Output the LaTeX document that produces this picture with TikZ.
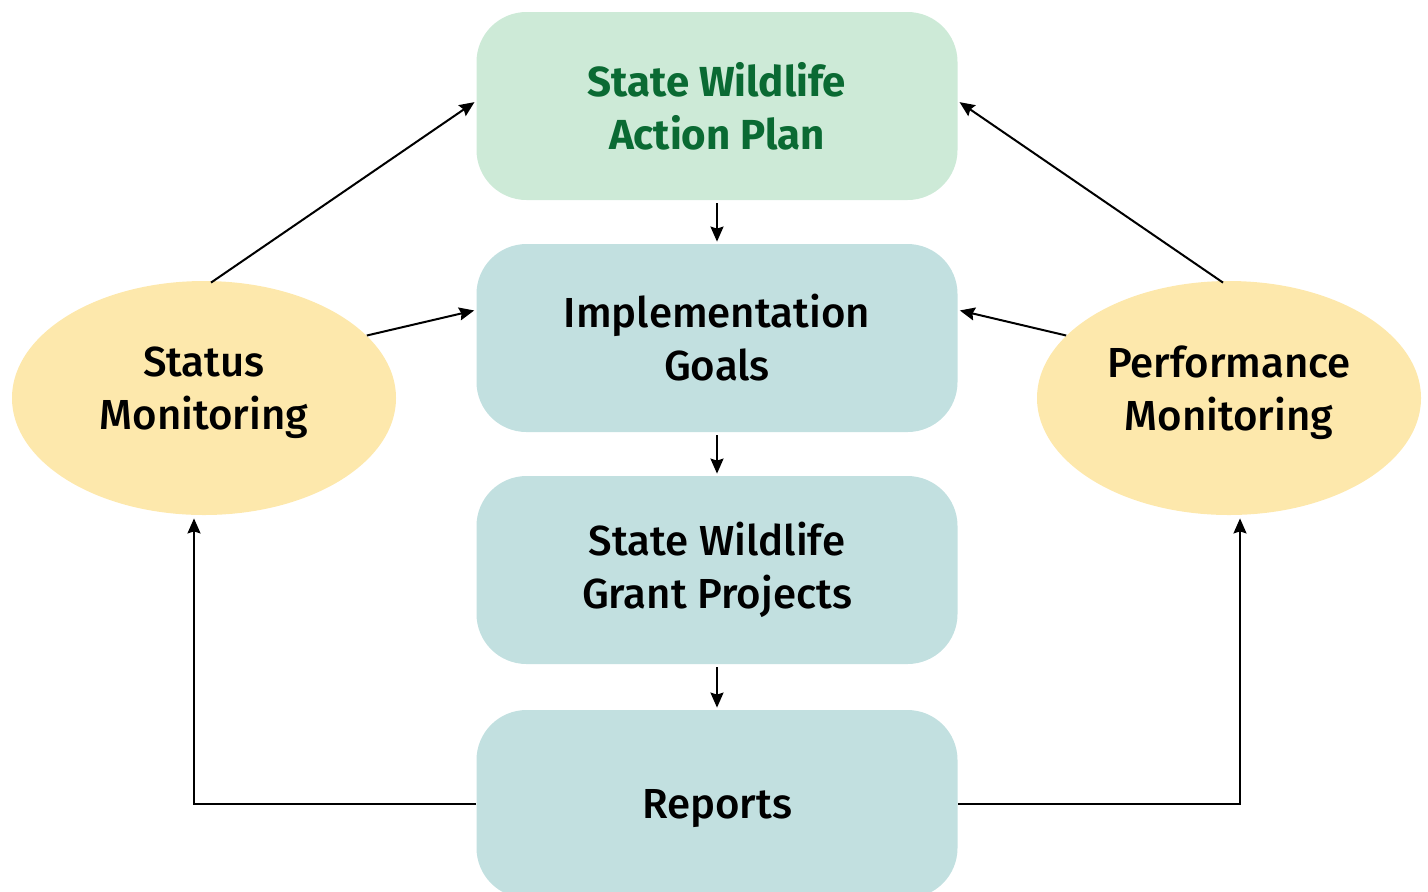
\documentclass[tikz,border=0pt]{standalone}
\usepackage{fontspec}
\setmainfont{Fira Sans}
\newfontfamily\medfont{Fira Sans Medium}
\usepackage{tikz}
\usetikzlibrary{arrows.meta,positioning,calc,shapes.geometric}
\definecolor{cPlan}{HTML}{CDEAD7}
\definecolor{cPlanText}{HTML}{0A6A33}
\definecolor{cStep}{HTML}{C2E0E0}
\definecolor{cMon}{HTML}{FDE8AC}
\tikzset{
  planbox/.style={rounded corners=25pt,fill=cPlan,minimum width=240.5pt,minimum height=94pt,
    align=center,font=\fontsize{21}{26.5}\selectfont\bfseries,text=cPlanText},
  stepbox/.style={rounded corners=25pt,fill=cStep,minimum width=240.5pt,minimum height=94pt,
    align=center,font=\fontsize{21}{26.5}\selectfont\medfont},
  monitor/.style={ellipse,fill=cMon,minimum width=192pt,minimum height=117pt,inner sep=0pt,
    align=center,text depth=9.5pt,font=\fontsize{21}{26.5}\selectfont\medfont},
  link/.style={-{Stealth[length=7.5pt,width=6.5pt,inset=1pt]},line width=1pt,black},
}

\begin{document}
\begin{tikzpicture}[x=0.5pt,y=-0.5pt]
\useasboundingbox (0,0) rectangle (1428,891);
\clip (0,0) rectangle (1428,891);
% central column
\node[planbox] (plan) at (717,106) {State Wildlife\\Action Plan};
\node[stepbox] (goals) at (717,338) {Implementation\\Goals};
\node[stepbox] (grants) at (717,570) {State Wildlife\\Grant Projects};
\node[stepbox,text depth=0pt] (reports) at (717,804) {Reports};
% monitoring
\node[monitor] (status) at (204,398) {Status\\Monitoring};
\node[monitor] (perf) at (1229,398) {Performance\\Monitoring};
% flow
\draw[link,shorten <=1.5pt,shorten >=1pt] (plan) -- (goals);
\draw[link,shorten <=1.5pt,shorten >=1pt] (goals) -- (grants);
\draw[link,shorten <=1.5pt,shorten >=1pt] (grants) -- (reports);
\draw[link,shorten >=1pt] ([xshift=3.5pt,yshift=-1pt]status.north) -- ([yshift=2.5pt]plan.west);
\draw[link,shorten >=1pt] (status.21) -- ($(goals.west)+(0,-28)$);
\draw[link,shorten >=1pt] ([xshift=-3pt,yshift=-1pt]perf.north) -- ([yshift=2.5pt]plan.east);
\draw[link,shorten >=1pt] (perf.159) -- ($(goals.east)+(0,-28)$);
\draw[link,shorten >=1.5pt] (reports.west) -| ([xshift=-5pt]status.south);
\draw[link,shorten >=1.5pt] (reports.east) -| ([xshift=5.5pt]perf.south);
\end{tikzpicture}
\end{document}
